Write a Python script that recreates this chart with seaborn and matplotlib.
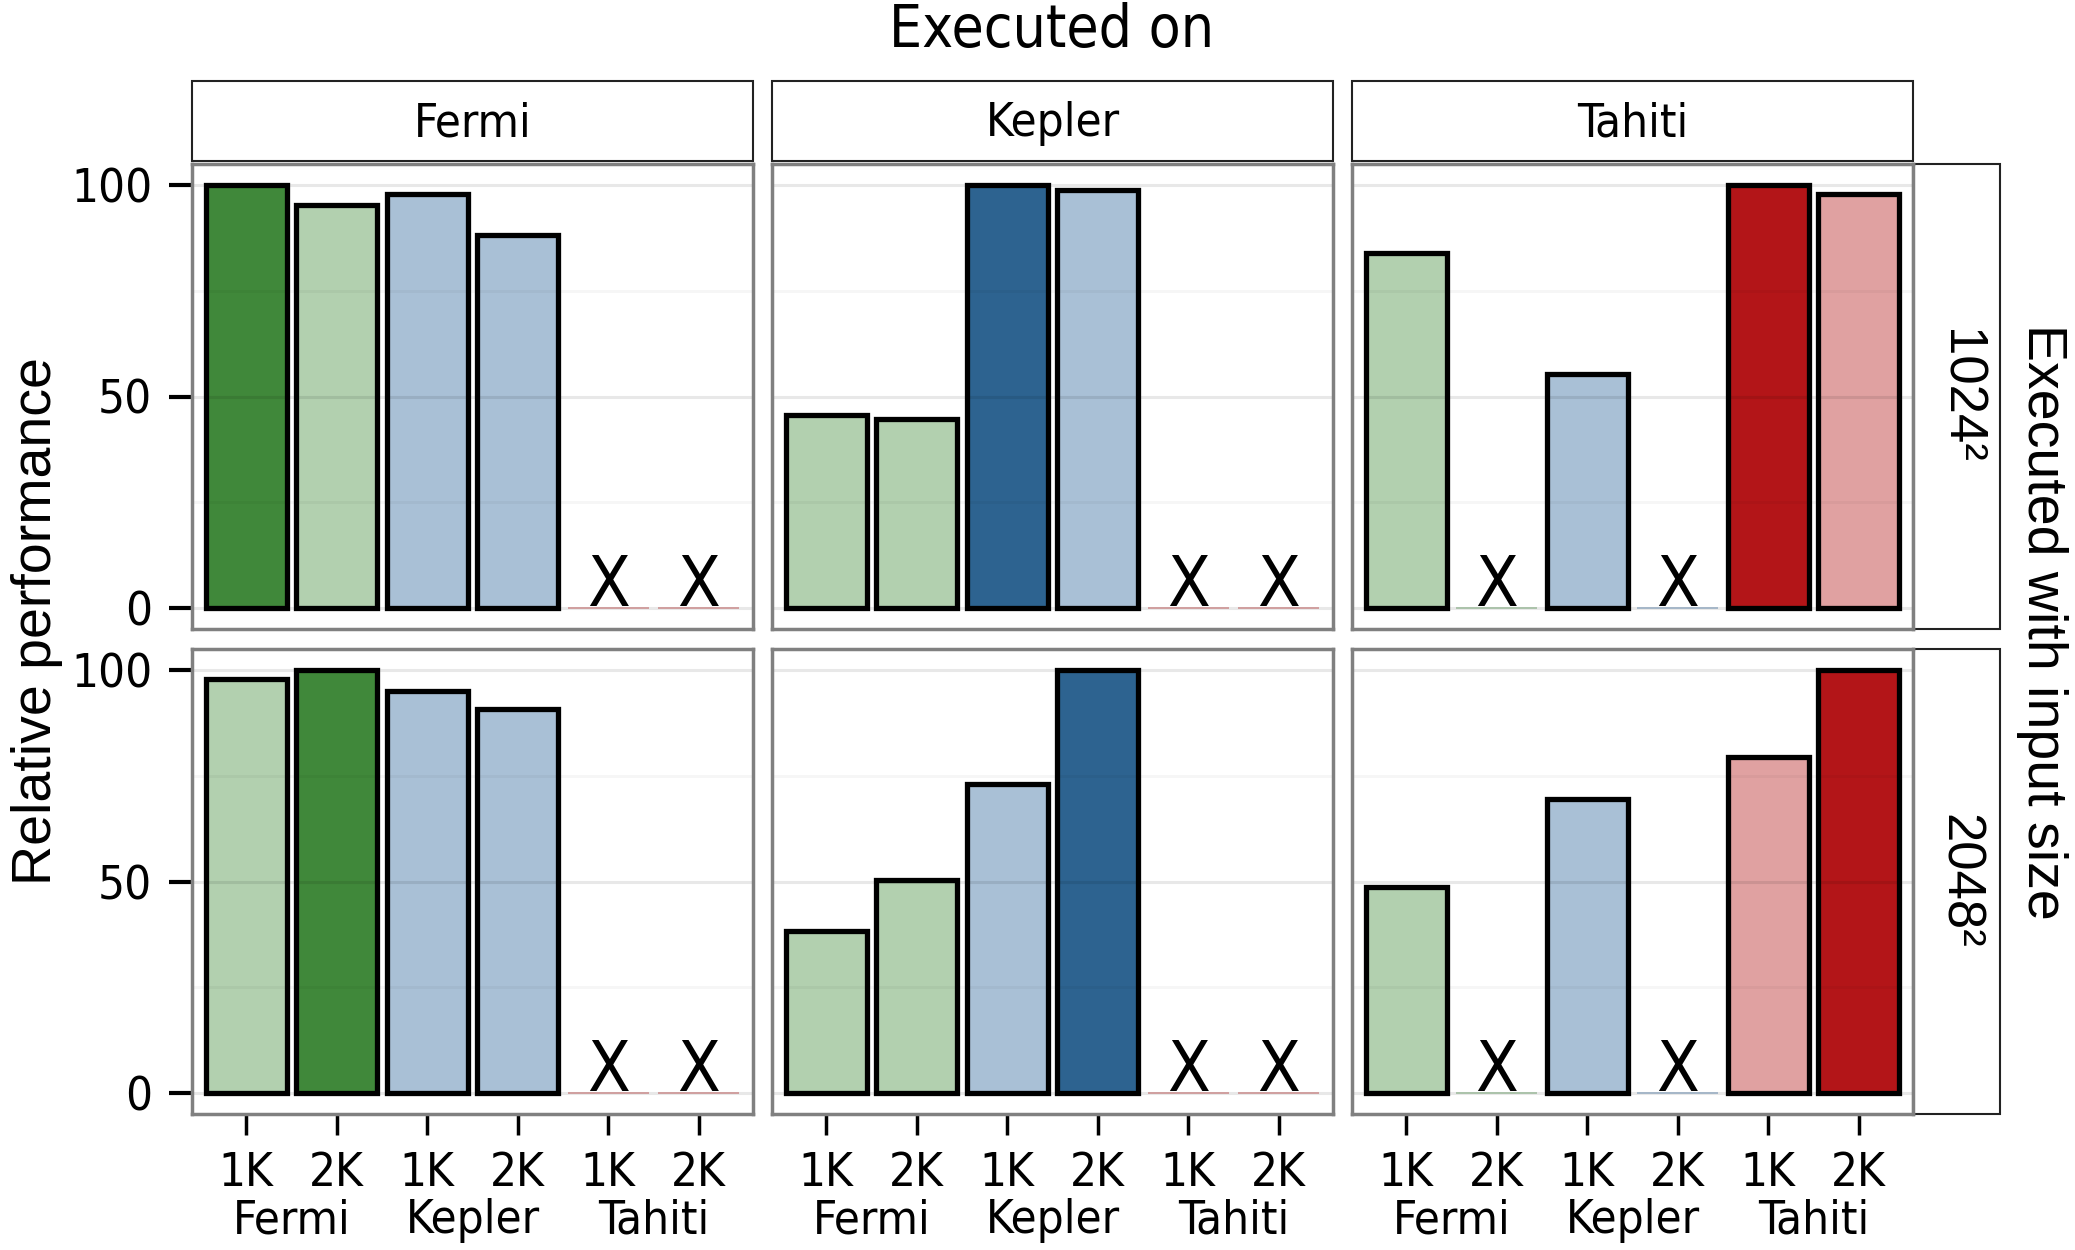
import matplotlib
matplotlib.use("Agg")
import numpy as np
import pandas as pd
import matplotlib.pyplot as plt
from matplotlib import font_manager
from matplotlib.patches import Rectangle
import seaborn as sns

# data (NaN = could not run, drawn as "X")
executed_on = ["Fermi", "Kepler", "Tahiti"]
input_sizes = ["1024²", "2048²"]
size_short = ["1K", "2K"]
bar_device = ["Fermi", "Fermi", "Kepler", "Kepler", "Tahiti", "Tahiti"]
bar_size = ["1K", "2K", "1K", "2K", "1K", "2K"]

nan = np.nan
perf_1024_fermi = [100, 95.3, 97.8, 88.2, nan, nan]
perf_1024_kepler = [45.7, 44.7, 100, 98.8, nan, nan]
perf_1024_tahiti = [83.9, nan, 55.3, nan, 100, 97.8]
perf_2048_fermi = [97.8, 100, 95.0, 90.7, nan, nan]
perf_2048_kepler = [38.2, 50.3, 73.0, 100, nan, nan]
perf_2048_tahiti = [48.8, nan, 69.6, nan, 79.5, 100]

dark = {"Fermi": "#40883A", "Kepler": "#2D6390", "Tahiti": "#B31518"}
light = {"Fermi": "#B2D0AF", "Kepler": "#A9C0D6", "Tahiti": "#E0A1A1"}

names = {f.name for f in font_manager.fontManager.ttflist}
if "Liberation Sans Narrow" in names:
    narrow = dict(family="Liberation Sans Narrow")
else:
    narrow = dict(family="DejaVu Sans", stretch="condensed")
regular = dict(family=["Liberation Sans", "DejaVu Sans"])

perf = {
    ("1024²", "Fermi"): perf_1024_fermi,
    ("1024²", "Kepler"): perf_1024_kepler,
    ("1024²", "Tahiti"): perf_1024_tahiti,
    ("2048²", "Fermi"): perf_2048_fermi,
    ("2048²", "Kepler"): perf_2048_kepler,
    ("2048²", "Tahiti"): perf_2048_tahiti,
}

rows = []
for si, size in enumerate(input_sizes):
    for dev in executed_on:
        for i, v in enumerate(perf[(size, dev)]):
            own = bar_device[i] == dev and bar_size[i] == size_short[si]
            rows.append({
                "size": size, "exec": dev,
                "bar": f"{bar_device[i]} {bar_size[i]}",
                "perf": 0 if np.isnan(v) else v,
                "missing": np.isnan(v),
                "shade": bar_device[i] + (" dark" if own else " light"),
            })
df = pd.DataFrame(rows)
bar_order = [f"{d} {s}" for d, s in zip(bar_device, bar_size)]
palette = {f"{d} dark": c for d, c in dark.items()}
palette.update({f"{d} light": c for d, c in light.items()})

W, H = 2075, 1250
fig, axes = plt.subplots(2, 3, figsize=(W / 100, H / 100), dpi=100, sharey=True)
fig.subplots_adjust(left=192 / W, right=1913 / W, top=1 - 164 / H, bottom=1 - 1114 / H,
                    wspace=19 / 561, hspace=20 / 465)

for r, size in enumerate(input_sizes):
    for c, dev in enumerate(executed_on):
        ax = axes[r, c]
        sub = df[(df["size"] == size) & (df["exec"] == dev)]
        sns.barplot(data=sub, x="bar", y="perf", hue="shade", palette=palette,
                    order=bar_order, dodge=False, width=0.9, edgecolor="black",
                    linewidth=3.8, saturation=1, legend=False, errorbar=None,
                    ax=ax, zorder=2)
        # zero-height bars (missing runs) keep only a thin coloured line
        for p in ax.patches:
            if p.get_height() == 0:
                p.set_edgecolor(p.get_facecolor())
                p.set_linewidth(1.2)
        for i, b in enumerate(bar_order):
            if sub.set_index("bar").loc[b, "missing"]:
                ax.text(i, 0.4, "X", ha="center", va="baseline", fontsize=50,
                        zorder=4, **narrow)

        ax.set_xlim(-0.6, 5.6)
        ax.set_ylim(-5, 105)
        ax.set_yticks([0, 50, 100])
        ax.set_yticks([25, 75], minor=True)
        ax.set_axisbelow(False)
        ax.grid(which="major", axis="y", color="black", alpha=0.09, lw=2.2, zorder=3)
        ax.grid(which="minor", axis="y", color="black", alpha=0.035, lw=2.2, zorder=3)
        ax.grid(which="major", axis="x", visible=False)
        ax.tick_params(which="minor", length=0)
        for s in ax.spines.values():
            s.set_color("#808080")
            s.set_linewidth(2.5)
            s.set_zorder(5)
        ax.set_xlabel("")
        ax.set_ylabel("")

        if c == 0:
            ax.tick_params(axis="y", length=16.5, width=3, color="black", pad=12,
                           labelsize=34)
            for t in ax.get_yticklabels():
                t.set_family(narrow["family"])
                t.set_stretch(narrow.get("stretch", "normal"))
        else:
            ax.tick_params(axis="y", length=0, labelleft=False)

        if r == 1:
            ax.set_xticks(range(len(bar_order)))
            ax.set_xticklabels(bar_size, fontsize=34, **narrow)
            ax.tick_params(axis="x", length=15, width=2.5, color="black", pad=12)
            for k in range(0, len(bar_device), 2):
                ax.annotate(bar_device[k], xy=((k + k + 1) / 2, 0),
                            xycoords=("data", "axes fraction"),
                            xytext=(0, -77), textcoords="offset points",
                            ha="center", va="center", fontsize=34, **narrow)
        else:
            ax.tick_params(axis="x", length=0, labelbottom=False)

        if r == 0:
            ph = 465
            ax.add_patch(Rectangle((0, 1 + 3 / ph), 1, 80 / ph, transform=ax.transAxes,
                                   clip_on=False, fc="white", ec="#222222", lw=1.5))
            ax.text(0.5, 1 + 40 / ph, dev, transform=ax.transAxes, ha="center",
                    va="center", fontsize=34, **narrow)
        if c == 2:
            pw = 561
            ax.add_patch(Rectangle((1, 0), 87 / pw, 1, transform=ax.transAxes,
                                   clip_on=False, fc="white", ec="#222222", lw=1.5))
            ax.text(1 + 46 / pw, 0.5, size, transform=ax.transAxes, ha="center",
                    va="center", rotation=-90, fontsize=38, **regular)

fig.text(1052 / W, 1 - 31 / H, "Executed on", ha="center", va="center",
         fontsize=42, **narrow)
fig.text(37 / W, 1 - 621 / H, "Relative performance", ha="center", va="center",
         rotation=90, fontsize=40, **regular)
fig.text(2042 / W, 1 - 622 / H, "Executed with input size", ha="center", va="center",
         rotation=-90, fontsize=40, **regular)

fig.savefig("out.png", dpi=100)
